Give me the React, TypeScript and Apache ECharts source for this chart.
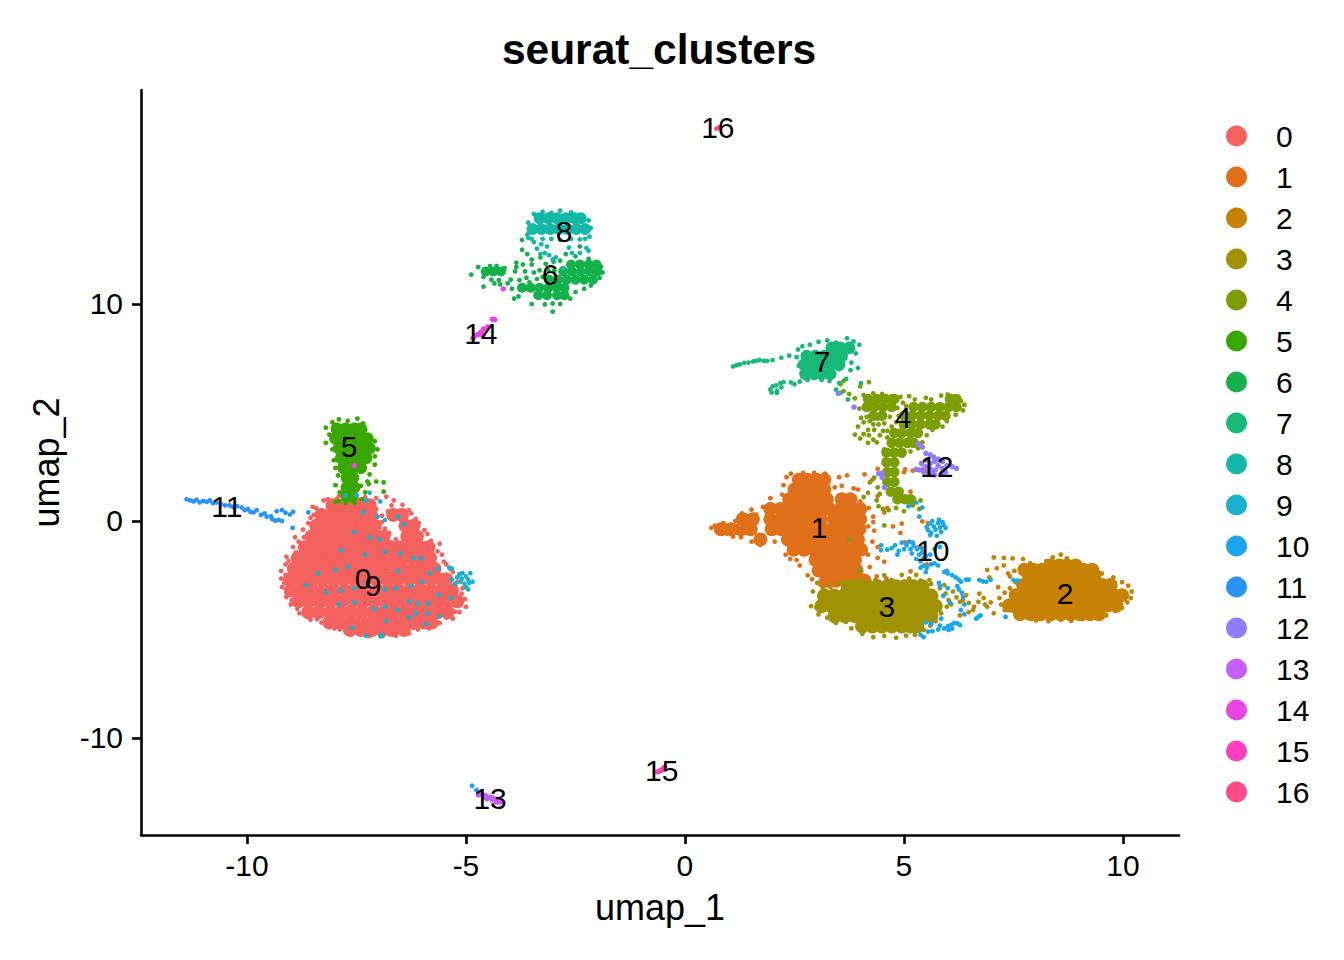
import React, { useEffect, useRef } from "react";
import * as echarts from "echarts";

type Row = [number, number[]];
type Pt = [number, number];

const clusterNames = ["0","1","2","3","4","5","6","7","8","9","10","11","12","13","14","15","16"];
const clusterColors = ["#F4625F","#E0701A","#C58205","#A09203","#7C9E05","#38A800","#14B14B","#18B878","#14B8A6","#1BB0CC","#18A6EE","#2B93FF","#917CFF","#C560FF","#E845E4","#FF40BE","#FF4C88"];

const labelXs = [-7.35,3.06,8.68,4.61,4.98,-7.67,-3.08,3.13,-2.76,-7.12,5.66,-10.46,5.75,-4.45,-4.66,-0.53,0.75];
const labelYs = [-2.67,-0.28,-3.32,-3.96,4.75,3.41,11.34,7.37,13.32,-2.95,-1.38,0.65,2.53,-12.81,8.66,-11.52,18.11];

const xTicks = [-10,-5,0,5,10];
const yTicks = [-10,0,10];

const core0: Row[] = [
 [0.72,[-8.05,-7.82,-7.58,-7.38,-7.2]],
 [0.28,[-8.3,-8.08,-7.84,-7.6,-7.38,-7.17,-6.66,-6.46]],
 [-0.22,[-8.42,-8.18,-7.95,-7.7,-7.46,-7.24,-7.08,-6.38,-6.2]],
 [-0.72,[-8.53,-8.28,-8.02,-7.8,-7.55,-7.3,-7.07,-6.88,-6.34,-6.12]],
 [-1.21,[-8.68,-8.44,-8.2,-7.94,-7.7,-7.44,-7.2,-6.96,-6.72,-6.5,-6.28,-6.05,-5.86]],
 [-1.7,[-8.84,-8.58,-8.35,-8.1,-7.85,-7.6,-7.34,-7.1,-6.84,-6.6,-6.4,-6.2,-6.02,-5.82]],
 [-2.2,[-8.93,-8.68,-8.45,-8.2,-7.96,-7.7,-7.46,-7.2,-6.95,-6.72,-6.46,-6.2,-5.96,-5.72]],
 [-2.7,[-9.02,-8.78,-8.52,-8.28,-8.04,-7.8,-7.55,-7.3,-7.05,-6.8,-6.56,-6.3,-6.05,-5.8,-5.55,-5.45]],
 [-3.2,[-9.0,-8.76,-8.5,-8.26,-8.02,-7.76,-7.52,-7.28,-7.02,-6.78,-6.54,-6.28,-6.04,-5.8,-5.55,-5.32]],
 [-3.7,[-8.82,-8.58,-8.32,-8.08,-7.84,-7.58,-7.34,-7.1,-6.84,-6.6,-6.36,-6.1,-5.86,-5.62,-5.38,-5.2]],
 [-4.2,[-8.6,-8.36,-8.1,-7.86,-7.62,-7.38,-7.12,-6.88,-6.64,-6.4,-6.15,-5.9,-5.66,-5.42]],
 [-4.68,[-8.12,-7.88,-7.64,-7.4,-7.16,-6.92,-6.68,-6.42,-6.2,-5.96,-5.78]],
 [-5.02,[-7.65,-7.4,-7.16,-6.92,-6.68,-6.42]],
];
const dots0: Pt[] = [
 [-8.5,0.65],[-8.25,0.95],[-7.95,1.02],[-7.6,1.05],[-7.3,1.1],[-7.05,1.05],[-6.82,1.12],[-6.65,0.95],[-6.45,0.75],[-6.25,0.35],[-6.08,-0.1],
 [-5.88,-0.6],[-5.75,-1.15],[-5.55,-1.55],[-5.45,-2.0],[-5.3,-2.35],[-5.08,-3.1],[-5.02,-3.6],[-5.0,-3.95],[-5.15,-4.2],[-5.3,-4.5],[-5.6,-4.7],
 [-5.85,-4.95],[-6.1,-5.0],[-6.3,-5.18],[-6.6,-5.28],[-6.9,-5.3],[-7.2,-5.3],[-7.45,-5.2],[-7.75,-5.05],[-8.0,-4.95],[-8.3,-4.68],[-8.55,-4.55],
 [-8.8,-4.25],[-9.0,-3.85],[-9.1,-3.5],[-9.2,-3.05],[-9.22,-2.65],[-9.22,-2.3],[-9.12,-2.0],[-9.1,-1.65],[-8.95,-1.2],[-8.82,-0.95],[-8.72,-0.4],
 [-8.6,-0.1],[-8.48,0.28],[-8.62,-0.68],[-7.05,0.55],[-6.92,0.25],[-6.7,0.72],[-6.85,-0.35],[-6.72,-1.0],[-6.5,-1.35],[-8.9,-0.75],[-5.6,-1.05],[-7.9,1.15],[-7.45,0.98],
 [-9.12,-2.48],[-9.15,-2.85],[-9.1,-3.3],[-8.98,-3.65],[-8.85,-4.05],[-8.62,-4.42],[-8.4,-4.52],[-8.12,-4.88],[-7.88,-5.0],[-7.58,-5.15],[-7.1,-5.2],[-6.75,-5.22],[-6.45,-5.12],
 [-6.2,-4.92],[-5.95,-4.82],[-5.7,-4.6],[-5.45,-4.45],[-5.25,-4.18],[-5.12,-3.88],[-5.1,-3.35],[-5.2,-2.82],[-5.35,-2.22],[-5.5,-1.88],[-5.65,-1.4],[-5.8,-0.92],[-5.95,-0.42],[-6.15,0.1],[-6.3,0.5],
 [-8.42,0.6],[-8.55,0.15],[-8.7,-0.75],[-8.88,-1.45],[-9.05,-1.85],[-8.15,1.0],[-6.92,-0.05],[-6.75,-0.55],[-6.6,-0.85],[-6.78,0.45],
];
const dots9: Pt[] = [
 [-7.75,1.18],[-7.5,1.2],[-7.2,1.3],[-7.28,0.95],[-6.96,0.9],[-7.35,0.4],[-7.02,0.2],[-6.85,0.05],[-6.55,0.2],[-6.42,-0.15],[-7.55,-0.5],[-7.2,-0.75],
 [-6.98,-0.85],[-7.85,-1.35],[-7.3,-1.55],[-6.85,-1.42],[-6.5,-1.5],[-6.2,-1.7],[-6.02,-1.72],[-8.38,-2.4],[-7.98,-2.25],[-7.7,-2.1],[-8.65,-2.95],
 [-8.2,-3.28],[-7.86,-3.2],[-7.55,-3.1],[-7.25,-2.85],[-6.55,-2.3],[-6.25,-3.0],[-6.0,-2.8],[-5.82,-2.4],[-5.65,-2.2],[-5.38,-2.15],[-6.85,-3.15],
 [-6.6,-3.1],[-6.3,-3.7],[-6.1,-3.8],[-5.86,-3.8],[-5.62,-3.4],[-5.35,-3.55],[-7.55,-3.75],[-7.9,-3.85],[-7.1,-4.05],[-6.85,-3.95],[-6.55,-4.1],
 [-6.15,-4.25],[-5.88,-4.25],[-5.6,-4.4],[-7.6,-4.9],[-6.82,-4.6],[-6.3,-4.45],[-5.9,-4.75],[-6.92,-5.25],[-7.28,-5.3],[-6.95,-5.32],
 [-5.15,-2.45],[-5.08,-2.4],[-5.2,-2.6],[-5.1,-2.65],[-5.0,-2.55],[-4.95,-2.7],[-5.12,-2.8],[-5.03,-2.9],[-4.92,-2.85],[-4.85,-2.8],[-5.0,-3.05],[-4.95,-3.15],[-5.25,-2.9],[-5.32,-2.7],[-4.9,-2.4],[-5.32,-2.2],
];

const core1: Row[] = [
 [1.9,[2.6,2.8,3.0,3.18]],
 [1.45,[2.5,2.72,2.95,3.18]],
 [1.0,[2.38,2.6,2.82,3.05,3.24,3.58,3.78]],
 [0.55,[1.95,2.18,2.4,2.62,2.85,3.08,3.3,3.55,3.78,4.0]],
 [0.08,[1.32,1.55,1.95,2.2,2.42,2.65,2.88,3.1,3.4,3.62,3.85,4.0]],
 [-0.38,[0.82,1.05,1.28,1.5,1.98,2.2,2.42,2.65,2.88,3.15,3.38,3.6,3.82,3.98]],
 [-0.85,[1.72,2.35,2.58,2.8,3.05,3.28,3.5,3.72,3.95]],
 [-1.32,[2.48,2.72,2.95,3.18,3.4,3.62,3.85,4.02]],
 [-1.8,[2.98,3.2,3.42,3.65,3.88]],
 [-2.28,[3.05,3.28,3.5,3.72,3.92]],
 [-2.75,[3.22,3.45,3.68,3.9,4.1]],
];
const dots1: Pt[] = [
 [0.6,-0.32],[0.68,-0.22],[0.72,-0.45],[0.88,-0.1],[0.95,-0.58],[1.15,0.0],[1.1,-0.72],[1.3,0.35],[1.28,-0.75],[1.52,0.52],[1.52,-0.95],[1.62,0.3],
 [1.78,0.65],[1.72,-1.1],[1.95,1.05],[2.05,-0.95],[2.22,1.22],[2.25,1.65],[2.32,2.02],[2.42,2.18],[2.7,2.22],[2.95,2.22],[3.2,2.18],[2.3,-1.55],[2.4,-1.75],[2.55,-1.8],
 [2.62,-2.05],[2.8,-2.5],[2.9,-2.68],[3.52,2.02],[3.7,2.1],[3.58,1.62],[3.42,1.55],[3.85,1.5],[4.0,0.9],[4.2,0.6],[4.3,0.2],[4.4,1.15],[4.18,-0.25],[4.32,-0.45],
 [4.28,-0.95],[4.4,-1.2],[4.18,-1.55],[4.4,-1.7],[4.22,-2.12],[4.55,-1.88],[4.38,-2.55],[4.6,-2.65],[4.75,-0.25],[4.92,-0.55],[4.55,0.4],[4.28,1.9],[3.95,1.45],[4.3,-0.05],
 [5.02,-0.98],[5.32,-1.22],[4.95,-0.12],[5.15,1.35],[5.35,-1.2],[4.62,0.6],[4.1,2.15],[4.4,2.4],[5.0,2.25],[5.03,2.38],[5.2,2.32],[5.4,2.35],[5.52,2.28],[5.42,-0.02],[5.55,-0.1],[5.12,0.72],[5.52,-2.0],[5.15,-2.32],[3.1,-2.95],[3.32,-3.05],
];

const core2: Row[] = [
 [-2.05,[8.35,8.55,8.72,8.92]],
 [-2.25,[7.75,7.95,8.15,9.1,9.3]],
 [-2.5,[7.85,8.05,8.28,8.48,8.7,8.92,9.12,9.35]],
 [-2.95,[7.72,7.95,8.18,8.4,8.62,8.85,9.08,9.3,9.52,9.72]],
 [-3.42,[7.55,7.78,8.0,8.22,8.45,8.68,8.9,9.12,9.35,9.58,9.8,9.98]],
 [-3.9,[7.4,7.62,7.85,8.08,8.3,8.52,8.75,8.98,9.2,9.42,9.65,9.85]],
 [-4.3,[7.65,7.9,8.12,8.35,8.58,8.8,9.02,9.25,9.45]],
];
const dots2: Pt[] = [
 [7.18,-3.55],[7.22,-3.85],[7.3,-3.3],[7.3,-4.1],[7.42,-3.1],[7.5,-4.15],[7.55,-2.82],[7.62,-4.35],[7.82,-4.45],[8.02,-4.58],[8.3,-4.62],[8.58,-4.55],
 [8.82,-4.6],[9.1,-4.5],[9.35,-4.45],[9.62,-4.35],[9.82,-4.15],[9.98,-4.0],[10.1,-3.75],[10.18,-3.55],[10.2,-3.25],[10.12,-2.98],[9.98,-2.82],[9.78,-2.6],
 [9.52,-2.42],[9.28,-2.35],[9.02,-2.12],[8.72,-1.72],[8.58,-1.55],[8.4,-1.68],[8.25,-1.85],[8.12,-2.1],[7.88,-1.95],[7.7,-2.1],[7.72,-1.75],[7.52,-2.3],
 [7.42,-2.55],[7.28,-1.7],[7.05,-1.68],[7.48,-1.72],[7.12,-2.18],[7.28,-2.05],[7.38,-2.42],[6.9,-2.25],[6.95,-2.6],[6.72,-3.35],[6.82,-3.55],[6.98,-3.75],[6.6,-3.95],
 [6.48,-4.2],[6.35,-3.65],[6.28,-4.35],[6.42,-3.42],[6.85,-3.85],[7.05,-4.25],[7.15,-3.05],
];

const core3: Row[] = [
 [-3.02,[3.72,3.95,4.18,4.4,4.62,4.82,5.02,5.22,5.42]],
 [-3.45,[3.18,3.4,3.62,3.85,4.08,4.3,4.52,4.75,4.98,5.2,5.42,5.62]],
 [-3.92,[3.12,3.35,3.58,3.8,4.02,4.25,4.48,4.7,4.92,5.15,5.38,5.6,5.72]],
 [-4.38,[3.42,3.65,3.88,4.1,4.32,4.55,4.78,5.0,5.22,5.45,5.62]],
 [-4.85,[4.05,4.28,4.5,4.72,4.95,5.15,5.3]],
];
const dots3: Pt[] = [
 [2.88,-3.92],[2.92,-3.25],[3.02,-2.85],[3.0,-4.0],[3.05,-4.3],[3.25,-4.45],[3.45,-4.7],[3.68,-4.65],[3.8,-4.95],[4.05,-5.2],[4.3,-5.35],[4.55,-5.3],
 [4.82,-5.38],[5.05,-5.28],[5.25,-5.25],[5.45,-5.02],[5.6,-4.82],[5.72,-4.62],[5.85,-4.25],[5.98,-3.95],[6.02,-3.65],[5.95,-3.35],[5.82,-3.1],[5.62,-2.9],[5.38,-2.75],
 [5.12,-2.65],[4.95,-2.48],[4.72,-2.72],[4.55,-2.5],[4.35,-2.72],[3.95,-2.7],[3.8,-2.82],[3.5,-2.82],[3.3,-2.95],[3.15,-3.1],[5.28,-2.48],[5.58,-2.72],[5.92,-2.95],
 [6.12,-3.25],[6.2,-3.52],[6.08,-3.85],[6.28,-3.72],[6.48,-3.78],[6.58,-4.1],[6.7,-3.72],[6.9,-3.95],
];

const core4: Row[] = [
 [5.62,[4.18,4.38,4.58,4.78,6.05,6.2]],
 [5.25,[4.15,4.32,4.52,4.72,5.22,5.42,5.62,5.82,6.02,6.2]],
 [4.85,[4.3,4.5,5.0,5.18,5.38,5.58,5.78,5.95]],
 [4.45,[5.0,5.18,5.38,5.58,5.72]],
 [4.05,[4.78,4.95,5.15,5.32]],
 [3.6,[4.72,4.9,5.08,5.22]],
 [3.15,[4.6,4.78,4.95]],
 [2.7,[4.6,4.78]],
 [2.25,[4.62,4.78]],
 [1.8,[4.62,4.78]],
 [1.35,[4.7,4.88]],
 [1.0,[4.85,5.02,5.15]],
];
const dots4: Pt[] = [
 [4.08,5.8],[4.3,5.88],[4.5,5.85],[4.72,5.75],[4.92,5.72],[5.12,5.75],[5.25,5.6],[5.5,5.68],[5.62,5.6],[5.85,5.78],[6.0,5.82],[6.15,5.75],[6.3,5.52],[6.38,5.35],[6.35,5.1],
 [6.18,4.9],[5.98,4.6],[5.88,4.35],[5.65,4.2],[5.52,3.95],[5.42,3.62],[5.32,3.35],[5.15,3.2],[3.98,5.18],[4.02,4.75],[4.22,4.6],[4.32,4.2],[3.95,4.35],[3.88,3.98],[4.0,3.8],
 [4.18,3.6],[4.38,3.62],[4.55,3.3],[4.62,4.15],[4.72,4.35],[4.52,4.15],[4.68,4.8],[3.75,5.85],[3.88,5.65],[4.0,6.2],[4.2,6.4],[3.55,6.3],[3.62,5.98],[3.62,6.45],[3.25,6.9],[3.35,6.75],[3.52,7.0],
 [4.38,0.95],[4.45,1.25],[4.08,1.1],[4.18,1.3],[4.22,1.78],[4.32,2.0],[4.4,1.55],[4.42,0.68],[4.52,0.55],[4.65,0.5],[4.82,0.6],[5.0,0.45],[5.2,0.72],[5.35,0.55],[5.38,0.95],[5.22,1.05],
 [3.75,-0.85],[3.98,-2.28],[4.55,-0.2],
 [4.08,4.55],[4.18,4.2],[4.08,4.0],[4.2,3.95],[4.3,3.75],[4.45,3.95],[4.42,4.45],[4.3,4.45],[4.15,4.8],[4.55,4.5],[4.82,4.55],[4.88,4.85],[4.85,5.2],[4.98,5.45],[5.05,5.3],[4.62,3.85],[4.4,4.72],[4.75,4.05],
];

const core5: Row[] = [
 [4.25,[-7.95,-7.75,-7.55,-7.4]],
 [3.8,[-7.98,-7.78,-7.58,-7.4,-7.25]],
 [3.35,[-7.9,-7.7,-7.5,-7.32,-7.2]],
 [2.9,[-7.85,-7.65,-7.45,-7.28]],
 [2.45,[-7.8,-7.62,-7.4]],
 [2.0,[-7.72,-7.58]],
 [1.55,[-7.72,-7.55]],
 [1.15,[-7.72,-7.6]],
];
const dots5: Pt[] = [
 [-8.2,4.3],[-8.05,4.55],[-7.9,4.68],[-7.7,4.62],[-7.48,4.72],[-7.35,4.5],[-7.3,4.2],[-8.12,3.98],[-8.2,3.6],[-7.08,3.68],[-7.02,3.3],[-7.08,2.98],[-7.08,2.6],[-8.05,3.3],[-8.02,2.8],[-7.98,2.45],
 [-7.2,2.15],[-7.25,1.82],[-7.92,2.1],[-7.98,1.65],[-7.88,1.32],[-7.98,0.88],[-7.75,0.82],[-7.55,0.82],[-7.38,1.0],[-7.22,1.7],[-7.05,1.82],[-6.88,1.78],[-6.88,1.35],[-7.4,1.62],[-7.3,1.32],[-7.9,0.92],
];

const core6: Row[] = [
 [11.82,[-2.6,-2.4,-2.2,-2.02]],
 [11.5,[-4.55,-4.38,-4.2,-2.78,-2.58,-2.38,-2.18,-2.0]],
 [11.12,[-3.1,-2.9,-2.7,-2.5,-2.3,-2.1]],
 [10.75,[-3.72,-3.52,-3.32,-3.12,-2.92,-2.75]],
 [10.4,[-3.35,-3.15,-2.92,-2.75]],
];
const dots6: Pt[] = [
 [-4.88,11.35],[-4.72,11.7],[-4.6,11.25],[-4.45,11.75],[-4.3,11.75],[-4.12,11.65],[-4.35,10.95],[-4.05,10.95],[-4.22,10.9],[-4.6,10.8],[-3.95,10.7],[-3.85,11.9],[-3.6,12.3],[-3.5,12.05],[-3.3,12.15],
 [-3.72,12.95],[-3.72,12.5],[-3.55,11.0],[-3.32,11.55],[-3.18,11.85],[-3.0,11.95],[-2.85,12.0],[-2.72,12.3],[-2.5,12.2],[-2.4,12.65],[-2.2,12.08],[-1.92,11.72],[-1.88,11.45],[-1.95,11.2],[-2.15,10.85],
 [-2.3,10.7],[-2.5,10.55],[-2.62,10.25],[-2.85,10.0],[-3.02,10.02],[-3.2,9.98],[-3.02,9.65],[-3.5,10.0],[-3.8,10.35],[-3.9,10.25],[-3.6,10.7],
 [-4.42,11.12],[-4.25,11.1],[-3.98,11.12],[-3.88,11.5],[-3.78,11.1],[-3.7,11.82],[-3.65,11.5],[-3.62,11.2],[-3.5,11.82],[-3.45,11.45],[-3.38,11.15],[-3.25,11.25],[-3.12,11.55],[-2.98,11.55],[-3.85,11.7],
];

const core7: Row[] = [
 [7.98,[3.35,3.55,3.75]],
 [7.6,[2.78,2.98,3.18,3.38,3.58]],
 [7.2,[2.72,2.9,3.1,3.32,3.52]],
 [6.78,[2.75,2.95,3.12,3.32]],
];
const dots7: Pt[] = [
 [1.1,7.12],[1.18,7.18],[1.25,7.22],[1.35,7.28],[1.45,7.3],[1.55,7.35],[1.62,7.38],[1.7,7.42],[1.8,7.38],[1.88,7.38],[2.0,7.42],[2.2,7.52],[2.38,7.62],[2.55,7.55],[2.6,7.15],[2.58,7.9],
 [2.68,8.05],[2.85,8.12],[3.05,8.25],[3.25,8.32],[3.45,8.22],[3.7,8.42],[3.85,8.28],[3.98,8.12],[3.9,7.72],[3.8,7.3],[3.78,6.95],[3.95,7.05],[3.68,6.55],[3.52,6.35],[3.45,6.05],[3.55,5.9],[3.3,6.45],[3.12,6.5],[2.8,6.5],[2.62,6.42],[2.42,6.38],[2.5,6.3],
 [1.95,6.05],[2.0,6.2],[2.08,6.25],[2.18,6.35],[2.25,6.4],[2.2,6.15],[2.1,6.0],[1.98,5.92],[2.1,5.9],[3.72,5.6],[4.02,6.35],
];

const core8: Row[] = [
 [13.95,[-3.32,-3.12,-2.92,-2.72,-2.52,-2.38]],
 [13.45,[-3.48,-3.28,-3.08,-2.88,-2.68,-2.48,-2.28]],
];
const dots8: Pt[] = [
 [-3.58,13.75],[-3.45,14.15],[-3.25,14.25],[-3.05,14.2],[-2.85,14.3],[-2.6,14.22],[-2.38,14.1],[-2.2,13.85],[-2.15,13.5],[-2.18,13.1],[-2.28,13.0],[-2.4,12.98],[-2.6,13.0],[-2.85,12.95],[-3.05,13.0],
 [-3.25,13.0],[-3.5,13.0],[-3.6,13.2],[-3.58,13.05],[-3.45,12.85],[-3.38,12.55],[-3.28,12.75],[-3.15,12.65],[-3.1,12.25],[-3.02,12.05],[-2.95,12.15],[-2.65,12.6],[-2.58,12.35],[-2.4,12.35],[-2.25,12.58],[-2.2,12.45],[-2.78,11.65],[-3.2,12.35],[-3.3,12.3],
];

const dots10: Pt[] = [
 [5.52,-0.28],[5.55,-0.42],[5.6,-0.12],[5.62,-0.55],[5.65,0.0],[5.68,-0.25],[5.72,-0.4],[5.75,-0.68],[5.78,-0.1],[5.8,0.05],[5.82,-0.3],[5.85,-0.5],[5.9,-0.18],[5.95,-0.32],[5.88,-0.05],[5.6,-0.65],
 [5.35,0.2],[5.28,0.85],[5.42,0.62],[5.1,0.68],[4.48,-1.12],[4.48,-1.35],[4.62,-1.32],[4.72,-1.25],[4.8,-1.12],[4.88,-1.38],[4.85,-1.55],[4.95,-1.0],[5.0,-1.3],[5.06,-1.12],[5.12,-0.95],[5.15,-1.3],
 [5.18,-1.5],[5.22,-1.15],[5.3,-1.3],[5.35,-1.55],[5.28,-1.75],[5.38,-1.85],[5.42,-1.45],[5.45,-1.7],[5.5,-1.6],[5.4,-1.25],[5.2,-1.0],[5.6,-1.55],[5.7,-1.3],[5.82,-1.2],
 [5.38,-2.15],[5.45,-2.05],[5.52,-2.15],[5.62,-2.0],[5.7,-1.95],[5.5,-2.35],[5.78,-2.05],[5.92,-2.35],[5.98,-2.3],[6.0,-2.42],[6.1,-2.5],[6.18,-2.6],[6.25,-2.7],[6.3,-2.8],[6.22,-3.0],[6.25,-3.15],[6.32,-3.3],[6.35,-3.5],
 [6.42,-2.7],[6.0,-3.1],[5.8,-2.85],[6.38,-3.85],[6.3,-4.1],[6.38,-4.3],[6.48,-2.7],[6.72,-2.72],[6.8,-2.78],[6.88,-2.8],[6.98,-2.7],[7.5,-2.72],[7.6,-2.75],[7.32,-4.42],[6.65,-4.5],[6.7,-4.42],[6.75,-4.35],
 [5.82,-4.82],[5.92,-4.95],[6.0,-4.85],[6.08,-4.78],[6.15,-4.7],[6.22,-4.72],[6.28,-4.8],[6.1,-4.95],[6.02,-5.02],[5.85,-4.5],[5.65,-5.08],[5.78,-5.0],[5.38,-5.25],[5.45,-5.35],[5.55,-5.1],[5.62,-4.75],[5.5,-4.68],[5.82,-3.0],[5.9,-3.45],[6.05,-3.78],
];
const dots11: Pt[] = [
 [-11.38,1.0],[-11.3,0.95],[-11.22,0.9],[-11.15,0.98],[-11.08,0.85],[-11.0,0.92],[-10.92,0.88],[-10.85,0.95],[-10.78,0.82],[-10.7,0.85],[-10.6,0.78],[-10.5,0.72],[-10.4,0.72],[-10.32,0.65],[-10.22,0.68],
 [-10.12,0.62],[-10.05,0.5],[-9.98,0.55],[-9.92,0.42],[-9.85,0.4],[-9.78,0.5],[-9.68,0.28],[-9.6,0.35],[-9.55,0.2],[-9.45,0.22],[-9.42,0.08],[-9.35,0.02],[-9.28,0.05],[-9.2,0.0],[-9.32,0.45],[-9.2,0.5],[-9.12,0.38],[-9.02,0.3],[-8.95,0.42],[-8.6,0.4],[-8.96,-0.32],[-4.86,-12.2],[-4.76,-12.4],
];
const dots12: Pt[] = [
 [5.33,3.55],[5.42,3.4],[5.5,3.12],[5.6,3.05],[5.68,2.95],[5.78,2.85],[5.88,2.75],[5.98,2.55],[6.1,2.5],[6.2,2.42],[5.95,2.25],[5.85,2.18],[5.7,2.12],[5.58,2.2],[5.45,2.25],[5.35,2.35],[5.4,2.65],
 [5.5,2.8],[5.6,2.65],[5.7,2.75],[5.78,2.55],[5.88,2.42],[5.72,2.35],[5.6,2.4],[5.5,2.5],[5.62,2.25],[5.45,2.4],[5.28,2.38],[4.5,2.2],[4.42,2.18],[4.5,2.0],[3.5,5.88],[3.86,5.25],[4.55,1.55],
];
const dots13: Pt[] = [
 [-4.68,-12.55],[-4.62,-12.62],[-4.56,-12.65],[-4.5,-12.72],[-4.44,-12.72],[-4.38,-12.78],[-4.32,-12.82],[-4.26,-12.88],[-4.22,-12.95],[-4.3,-12.95],[-4.4,-12.85],[-4.52,-12.8],[-4.6,-12.72],[-4.72,-12.62],
];
const dots14: Pt[] = [
 [-4.84,8.42],[-4.78,8.55],[-4.72,8.6],[-4.66,8.7],[-4.6,8.85],[-4.55,8.8],[-4.62,8.55],[-4.5,8.95],[-4.4,9.3],[-4.34,9.28],[-4.15,10.7],[-7.55,2.55],
];
const dots15: Pt[] = [[-0.62,-11.56],[-0.58,-11.52],[-0.54,-11.48],[-0.5,-11.42],[-0.46,-11.34]];
const dots16: Pt[] = [[0.72,18.08],[0.76,18.12],[0.8,18.15]];

const coreOf: Record<number, { rows: Row[]; size: number }> = {
  0: { rows: core0, size: 14 },
  1: { rows: core1, size: 14 },
  2: { rows: core2, size: 14 },
  3: { rows: core3, size: 14.5 },
  4: { rows: core4, size: 10.5 },
  5: { rows: core5, size: 12.5 },
  6: { rows: core6, size: 10 },
  7: { rows: core7, size: 12.5 },
  8: { rows: core8, size: 12 },
};
const dotsOf: Pt[][] = [dots0,dots1,dots2,dots3,dots4,dots5,dots6,dots7,dots8,dots9,dots10,dots11,dots12,dots13,dots14,dots15,dots16];

const flatten = (rows: Row[]): Pt[] => rows.flatMap(([y, xs]) => xs.map((x) => [x, y] as Pt));
const FONT = "'Liberation Sans', Arial, sans-serif";

export default function App() {
  const ref = useRef<HTMLDivElement>(null);
  useEffect(() => {
    const chart = echarts.init(ref.current!, null, { renderer: "svg" });
    const series: any[] = [];
    clusterNames.forEach((name, i) => {
      const color = clusterColors[i];
      if (coreOf[i]) {
        series.push({ type: "scatter", name, data: flatten(coreOf[i].rows), symbolSize: coreOf[i].size, itemStyle: { color, opacity: 1 }, silent: true });
      }
      series.push({ type: "scatter", name, data: dotsOf[i], symbolSize: i >= 12 && i <= 15 ? 5.5 : 4.8, itemStyle: { color, opacity: 1 }, silent: true });
    });
    series.push({
      type: "scatter",
      name: "labels",
      data: labelXs.map((x, i) => ({ value: [x, labelYs[i]], name: clusterNames[i] })),
      symbolSize: 0,
      silent: true,
      z: 10,
      itemStyle: { opacity: 1 },
      label: { show: true, position: "inside", formatter: "{b}", color: "#000", opacity: 1, fontFamily: FONT, fontSize: 30 },
    });
    const axisCommon = {
      splitLine: { show: false },
      axisLine: { show: true, onZero: false, lineStyle: { color: "#000", width: 2.6 } },
      nameTextStyle: { color: "#000", fontFamily: FONT, fontSize: 36 },
    };
    chart.setOption({
      animation: false,
      backgroundColor: "#fff",
      title: { text: "seurat_clusters", left: 654, top: 23, textAlign: "center", textStyle: { color: "#000", fontFamily: FONT, fontSize: 42.5, fontWeight: "bold" } },
      grid: { left: 141, top: 90, width: 1038, height: 745, containLabel: false },
      legend: {
        data: clusterNames,
        orient: "vertical",
        left: 1221,
        top: 116,
        height: 800,
        icon: "circle",
        itemWidth: 21,
        itemHeight: 21,
        itemGap: 11,
        selectedMode: false,
        textStyle: { color: "#000", fontFamily: FONT, fontSize: 30, padding: [0, 0, 0, 24] },
      },
      xAxis: {
        ...axisCommon,
        type: "value",
        min: -12.42,
        max: 11.28,
        name: "umap_1",
        nameLocation: "middle",
        nameGap: 54,
        axisTick: { show: true, customValues: xTicks, length: 9, lineStyle: { color: "#000", width: 2.6 } },
        axisLabel: { customValues: xTicks, color: "#000", fontFamily: FONT, fontSize: 30, margin: 15 },
      },
      yAxis: {
        ...axisCommon,
        type: "value",
        min: -14.47,
        max: 19.86,
        name: "umap_2",
        nameLocation: "middle",
        nameGap: 77,
        axisTick: { show: true, customValues: yTicks, length: 9, lineStyle: { color: "#000", width: 2.6 } },
        axisLabel: { customValues: yTicks, color: "#000", fontFamily: FONT, fontSize: 30, margin: 18 },
      },
      series,
    });
    return () => chart.dispose();
  }, []);
  return <div ref={ref} style={{ position: "fixed", left: 0, top: 0, width: 1344, height: 960 }} />;
}
